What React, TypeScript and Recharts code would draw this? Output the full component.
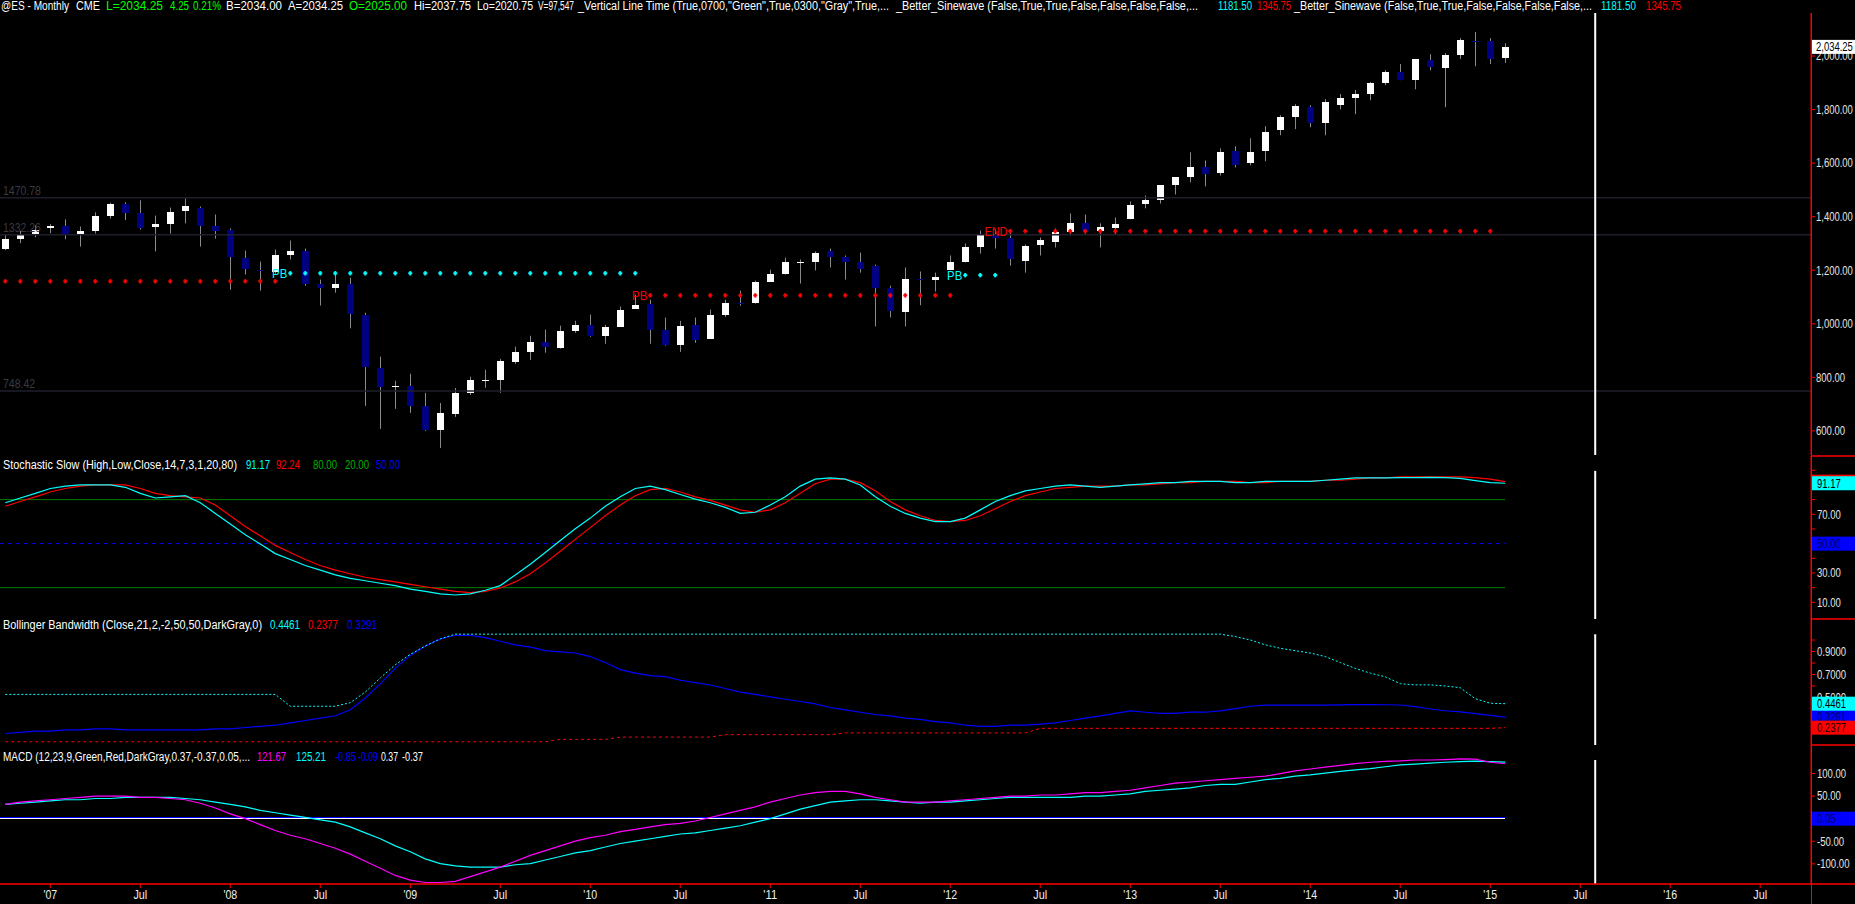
import React from "react";
import { Bar, ComposedChart, Line, ReferenceLine, Scatter, XAxis, YAxis } from "recharts";

const FONT = '"Liberation Sans", Arial, sans-serif';
const CHART_W = 1855;
const AXIS_W = 44;
const X_DOMAIN: [number, number] = [-0.3533, 120.3867];

const CYAN = "#00ffff";
const RED = "#ff0000";
const BLUE = "#0000ff";
const MAGENTA = "#ff00ff";
const GREEN = "#008000";
const AXIS_RED = "#ff0000";

// monthly @ES bars, Oct 2006 .. Feb 2015
const opens = [
  1281, 1318, 1337, 1356, 1367, 1333, 1345, 1401, 1446, 1413,
  1360, 1371, 1423, 1434, 1367, 1352, 1247, 1202, 1195, 1255,
  1270, 1150, 1135, 1150, 1034, 835, 765, 768, 693, 603,
  663, 742, 789, 790, 858, 895, 933, 910, 974, 996,
  955, 989, 1056, 1075, 978, 921, 996, 944, 1034, 1079,
  1079, 1157, 1184, 1226, 1229, 1270, 1251, 1229, 1217, 1132,
  1043, 1169, 1165, 1200, 1232, 1288, 1337, 1322, 1236, 1296,
  1307, 1341, 1375, 1345, 1356, 1393, 1446, 1461, 1517, 1547,
  1584, 1562, 1644, 1599, 1644, 1723, 1771, 1809, 1749, 1816,
  1843, 1858, 1899, 1940, 1910, 1985, 1955, 2004, 2056, 2056, 1992,
];
const highs = [
  1333, 1347, 1367, 1372, 1390, 1363, 1416, 1452, 1454, 1461,
  1404, 1434, 1468, 1438, 1408, 1356, 1273, 1232, 1277, 1311,
  1281, 1165, 1187, 1172, 1041, 877, 787, 813, 742, 704,
  760, 802, 828, 869, 914, 955, 978, 993, 1011, 1034,
  996, 1064, 1109, 1090, 1023, 1011, 1023, 1053, 1090, 1124,
  1161, 1202, 1247, 1240, 1270, 1281, 1255, 1266, 1221, 1142,
  1210, 1195, 1191, 1255, 1300, 1348, 1352, 1341, 1296, 1322,
  1356, 1412, 1408, 1375, 1397, 1457, 1479, 1517, 1547, 1640,
  1610, 1655, 1663, 1693, 1738, 1779, 1820, 1816, 1839, 1858,
  1873, 1903, 1947, 1970, 1989, 2007, 2011, 2067, 2090, 2067, 2048,
];
const lows = [
  1275, 1301, 1323, 1338, 1316, 1288, 1337, 1393, 1387, 1352,
  1270, 1337, 1375, 1288, 1318, 1127, 1184, 1124, 1187, 1240,
  1142, 1068, 1116, 983, 693, 607, 682, 667, 600, 536,
  652, 734, 761, 742, 850, 865, 892, 907, 966, 951,
  925, 989, 1056, 925, 918, 895, 929, 944, 1026, 1067,
  1075, 1157, 1184, 1150, 1199, 1210, 1165, 1191, 990, 1024,
  990, 1069, 1120, 1200, 1229, 1262, 1281, 1217, 1191, 1255,
  1285, 1330, 1337, 1285, 1333, 1390, 1431, 1449, 1483, 1528,
  1513, 1554, 1584, 1592, 1607, 1704, 1727, 1734, 1704, 1801,
  1783, 1835, 1891, 1910, 1876, 1947, 1809, 1989, 1962, 1970, 1974,
];
const closes = [
  1318, 1337, 1352, 1367, 1333, 1345, 1401, 1446, 1412, 1356,
  1371, 1419, 1438, 1367, 1348, 1251, 1204, 1196, 1255, 1270,
  1150, 1135, 1150, 1038, 837, 764, 768, 693, 603, 667,
  742, 790, 791, 862, 895, 933, 914, 974, 996, 955,
  989, 1053, 1071, 978, 921, 993, 940, 1034, 1079, 1076,
  1157, 1184, 1229, 1229, 1266, 1251, 1229, 1204, 1132, 1046,
  1169, 1166, 1176, 1232, 1288, 1333, 1322, 1240, 1292, 1311,
  1341, 1378, 1348, 1360, 1371, 1442, 1461, 1517, 1547, 1584,
  1558, 1640, 1592, 1640, 1715, 1771, 1813, 1749, 1828, 1843,
  1858, 1899, 1940, 1910, 1989, 1959, 2004, 2060, 2054, 1989, 2034.25,
];

// Better_Sinewave step levels (bar index range, price level, marker text)
const sineSegments = [
  { from: 0, to: 18, level: 1158.5, color: RED, label: "" },
  { from: 19, to: 42, level: 1188.5, color: CYAN, label: "PB" },
  { from: 43, to: 63, level: 1106, color: RED, label: "PB" },
  { from: 64, to: 66, level: 1181.5, color: CYAN, label: "PB" },
  { from: 67, to: 99, level: 1345.75, color: RED, label: "END" },
];
const priceLevels = [1470.78, 1332.26, 748.42];
const priceTicks = [600, 800, 1000, 1200, 1400, 1600, 1800, 2000];
const lastPrice = 2034.25;
const verticalLineIndex = 106;

// Stochastic Slow
const stochK = [
  77.9, 81.1, 84.3, 87.6, 89.2, 90.0, 90.0, 90.0, 88.4, 84.3,
  81.1, 81.9, 82.7, 77.9, 70.6, 63.4, 56.1, 49.7, 43.2, 39.2,
  35.1, 31.9, 28.7, 26.3, 24.7, 23.0, 21.4, 19.0, 17.4, 15.8,
  15.0, 15.8, 18.2, 21.4, 28.7, 36.0, 44.0, 52.1, 60.1, 67.4,
  75.5, 81.9, 87.6, 89.2, 86.8, 83.5, 80.3, 77.9, 74.7, 70.6,
  71.4, 76.3, 81.9, 89.2, 94.0, 94.8, 94.0, 90.0, 81.9, 75.5,
  70.6, 67.4, 65.0, 65.0, 67.4, 73.0, 78.7, 82.7, 86.0, 87.6,
  89.2, 90.0, 89.2, 88.4, 89.2, 90.0, 90.8, 91.6, 91.6, 92.4,
  92.4, 92.4, 91.6, 91.6, 92.4, 92.4, 92.4, 92.4, 93.2, 94.0,
  94.8, 94.8, 94.8, 95.0, 95.0, 95.2, 95.0, 94.5, 93.0, 91.6, 91.17,
];
const stochD = [
  75.5, 78.7, 81.9, 85.2, 87.6, 89.2, 90.0, 90.0, 90.0, 87.6,
  84.3, 82.7, 81.9, 81.1, 76.3, 69.0, 61.7, 55.3, 48.8, 44.0,
  39.2, 35.1, 31.9, 29.5, 27.1, 25.5, 23.9, 22.2, 20.6, 19.0,
  17.4, 16.6, 17.4, 19.8, 23.9, 29.5, 36.8, 44.8, 52.9, 60.9,
  69.0, 76.3, 82.7, 86.8, 87.6, 85.2, 81.9, 79.5, 76.3, 73.0,
  71.4, 73.0, 77.9, 84.3, 90.8, 94.0, 94.0, 91.6, 86.0, 78.7,
  73.0, 69.0, 65.8, 65.0, 65.8, 69.0, 73.8, 78.7, 82.7, 85.2,
  87.6, 88.4, 89.2, 89.2, 89.2, 90.0, 90.0, 90.8, 91.6, 91.6,
  92.4, 92.4, 92.4, 91.6, 91.6, 92.4, 92.4, 92.4, 93.2, 93.2,
  94.0, 94.8, 94.8, 95.5, 95.5, 95.5, 95.5, 95.5, 95.0, 94.0, 92.24,
];

// Bollinger Bandwidth
const bandwidthCyan = [
  0.527, 0.527, 0.527, 0.527, 0.527, 0.527, 0.527, 0.527, 0.527, 0.527,
  0.527, 0.527, 0.527, 0.527, 0.527, 0.527, 0.527, 0.527, 0.527, 0.424,
  0.424, 0.424, 0.424, 0.455, 0.547, 0.67, 0.784, 0.876, 0.948, 1.01,
  1.051, 1.051, 1.051, 1.051, 1.051, 1.051, 1.051, 1.051, 1.051, 1.051,
  1.051, 1.051, 1.051, 1.051, 1.051, 1.051, 1.051, 1.051, 1.051, 1.051,
  1.051, 1.051, 1.051, 1.051, 1.051, 1.051, 1.051, 1.051, 1.051, 1.051,
  1.051, 1.051, 1.051, 1.051, 1.051, 1.051, 1.051, 1.051, 1.051, 1.051,
  1.051, 1.051, 1.051, 1.051, 1.051, 1.051, 1.051, 1.051, 1.051, 1.051,
  1.051, 1.051, 1.03, 1.0, 0.958, 0.928, 0.907, 0.887, 0.856, 0.804,
  0.753, 0.712, 0.68, 0.62, 0.61, 0.61, 0.6, 0.585, 0.49, 0.45, 0.4461,
];
const bandwidthBlue = [
  0.187, 0.197, 0.208, 0.208, 0.218, 0.218, 0.228, 0.228, 0.218, 0.218,
  0.218, 0.218, 0.218, 0.218, 0.228, 0.228, 0.239, 0.249, 0.259, 0.28,
  0.3, 0.321, 0.341, 0.393, 0.496, 0.619, 0.753, 0.866, 0.948, 1.01,
  1.041, 1.041, 1.02, 0.989, 0.958, 0.938, 0.907, 0.897, 0.887, 0.856,
  0.804, 0.743, 0.712, 0.691, 0.681, 0.65, 0.63, 0.609, 0.578, 0.547,
  0.527, 0.506, 0.485, 0.465, 0.444, 0.413, 0.393, 0.372, 0.352, 0.341,
  0.321, 0.31, 0.29, 0.28, 0.259, 0.249, 0.249, 0.259, 0.259, 0.269,
  0.28, 0.3, 0.321, 0.341, 0.362, 0.383, 0.372, 0.362, 0.362, 0.372,
  0.372, 0.383, 0.403, 0.424, 0.434, 0.434, 0.434, 0.434, 0.434, 0.436,
  0.438, 0.438, 0.437, 0.435, 0.42, 0.4, 0.385, 0.375, 0.36, 0.345, 0.3291,
];
const bandwidthRed = [
  0.115, 0.115, 0.115, 0.115, 0.115, 0.115, 0.115, 0.115, 0.115, 0.115,
  0.115, 0.115, 0.115, 0.115, 0.115, 0.115, 0.115, 0.115, 0.115, 0.115,
  0.115, 0.115, 0.115, 0.115, 0.115, 0.115, 0.115, 0.115, 0.115, 0.115,
  0.115, 0.115, 0.115, 0.115, 0.115, 0.115, 0.115, 0.136, 0.136, 0.136,
  0.136, 0.156, 0.156, 0.156, 0.156, 0.156, 0.156, 0.156, 0.177, 0.177,
  0.177, 0.177, 0.177, 0.177, 0.177, 0.177, 0.192, 0.192, 0.192, 0.192,
  0.192, 0.192, 0.192, 0.192, 0.192, 0.192, 0.192, 0.192, 0.192, 0.232,
  0.232, 0.232, 0.232, 0.232, 0.232, 0.232, 0.232, 0.232, 0.232, 0.232,
  0.232, 0.232, 0.232, 0.232, 0.232, 0.232, 0.232, 0.232, 0.232, 0.232,
  0.232, 0.232, 0.232, 0.232, 0.232, 0.232, 0.232, 0.232, 0.232, 0.232, 0.2377,
];

// MACD
const macdMain = [
  31.6, 36.8, 39.4, 42.0, 44.7, 47.3, 49.9, 49.9, 49.9, 47.3,
  47.3, 44.7, 42.0, 34.2, 23.7, 10.6, 0.1, -13.0, -26.1, -36.6,
  -44.4, -54.9, -65.4, -78.5, -94.2, -109.9, -125.6, -136.0, -141.3, -141.3,
  -138.7, -128.2, -117.7, -107.3, -94.2, -81.1, -70.6, -60.1, -49.6, -41.8,
  -36.6, -28.7, -23.5, -18.2, -13.0, -10.4, -5.1, 2.7, 10.6, 18.5,
  26.3, 36.8, 44.7, 52.5, 57.8, 60.4, 60.4, 55.1, 47.3, 42.0,
  36.8, 36.8, 36.8, 39.4, 42.0, 44.7, 47.3, 49.9, 49.9, 52.5,
  52.5, 55.1, 57.8, 57.8, 60.4, 63.0, 68.2, 73.5, 78.7, 81.3,
  84.0, 86.6, 89.2, 91.8, 94.4, 99.7, 106, 110, 114, 118,
  122, 125, 127, 128, 130, 130, 131, 132.5, 132, 125, 121.67,
];
const macdSignal = [
  31.6, 34.2, 36.8, 39.4, 42.0, 42.0, 44.7, 44.7, 47.3, 47.3,
  47.3, 47.3, 44.7, 42.0, 36.8, 31.6, 26.3, 18.5, 13.2, 8.0,
  2.8, -2.5, -7.7, -18.2, -31.3, -44.4, -60.1, -73.2, -88.9, -99.4,
  -104.6, -107.3, -107.3, -107.3, -102.0, -99.4, -91.5, -83.7, -75.8, -70.6,
  -62.7, -54.9, -49.6, -44.4, -39.2, -33.9, -31.3, -26.1, -20.8, -15.6,
  -7.7, 0.1, 10.6, 21.1, 28.9, 36.8, 39.4, 42.0, 42.0, 39.4,
  36.8, 34.2, 36.8, 36.8, 39.4, 42.0, 44.7, 47.3, 47.3, 47.3,
  47.3, 47.3, 49.9, 49.9, 52.5, 55.1, 60.4, 63.0, 65.6, 68.2,
  73.5, 76.1, 76.1, 81.3, 86.6, 89.2, 94.4, 97.0, 101, 105,
  108, 111, 115, 119, 121, 123, 125, 126.5, 127.5, 126.5, 125.21,
];

const xTickIndex = [3, 9, 15, 21, 27, 33, 39, 45, 51, 57, 63, 69, 75, 81, 87, 93, 99, 105, 111, 117];
const xTickLabels = [
  "'07", "Jul", "'08", "Jul", "'09", "Jul", "'10", "Jul", "'11", "Jul",
  "'12", "Jul", "'13", "Jul", "'14", "Jul", "'15", "Jul", "'16", "Jul",
];

const candles = opens.map((o, i) => ({
  k: i,
  o,
  h: highs[i],
  l: lows[i],
  c: closes[i],
  range: [lows[i], highs[i]],
}));
const stochData = stochK.map((v, i) => ({ k: i, fast: v, slow: stochD[i] }));
const bandData = bandwidthCyan.map((v, i) => ({ k: i, cyan: v, blue: bandwidthBlue[i], red: bandwidthRed[i] }));
const macdData = macdMain.map((v, i) => ({ k: i, main: v, signal: macdSignal[i] }));
const sinePoints = sineSegments.map((s) => {
  const pts = [];
  for (let k = s.from; k <= s.to; k++) {
    pts.push({ k, v: s.level, color: s.color, label: k === s.from ? s.label : "" });
  }
  return pts;
});

// the platform font is a narrow one, squeeze numbers to about its width
function numberWidth(s: string) {
  let w = 0;
  for (const ch of s) {
    if (ch >= "0" && ch <= "9") w += 5.35;
    else if (ch === "-") w += 3.4;
    else w += 2.4;
  }
  return w;
}

function CandleShape(props: any) {
  const { x, y, width, height, payload } = props;
  if (!payload) return null;
  const { o, h, l, c } = payload;
  const mid = x + width / 2;
  const perUnit = h === l ? 0 : height / (h - l);
  const yOf = (p: number) => y + (h - p) * perUnit;
  const top = yOf(Math.max(o, c));
  const bottom = yOf(Math.min(o, c));
  const wickX = Math.floor(mid) + 0.5;
  return (
    <g>
      <line x1={wickX} x2={wickX} y1={y} y2={y + height} stroke="#8a8a8a" strokeWidth={1} />
      <rect
        x={Math.round(mid - 3.5)}
        y={Math.round(top)}
        width={7}
        height={Math.max(1, Math.round(bottom) - Math.round(top))}
        fill={c >= o ? "#ffffff" : "#000080"}
        shapeRendering="crispEdges"
      />
    </g>
  );
}

function SineDot(props: any) {
  const { cx, cy, payload } = props;
  if (cx == null || cy == null) return null;
  const color = payload.color;
  return (
    <g>
      <rect x={cx - 1} y={cy - 2.2} width={2} height={4.4} fill={color} />
      <rect x={cx - 2} y={cy - 1} width={4} height={2} fill={color} />
      {payload.label ? (
        <text
          x={cx - 3}
          y={cy}
          dy="0.36em"
          textAnchor="end"
          fill={color}
          fontSize={13}
          fontFamily={FONT}
          textLength={payload.label.length * 7.6}
          lengthAdjust="spacingAndGlyphs"
        >
          {payload.label}
        </text>
      ) : null}
    </g>
  );
}

type AxisBox = { value: number; bg: string; fg: string };

function axisTick(labelled: number[], fmt: (v: number) => string, boxes: AxisBox[]) {
  return (props: any) => {
    const { x, y, payload } = props;
    const v = payload.value;
    const s = fmt(v);
    const box = boxes.find((b) => b.value === v);
    if (box) {
      return (
        <g>
          <rect x={x - 5} y={y - 7} width={AXIS_W} height={14} fill={box.bg} />
          <text
            x={x}
            y={y}
            dy="0.36em"
            fill={box.fg}
            fontSize={12}
            fontFamily={FONT}
            textLength={numberWidth(s)}
            lengthAdjust="spacingAndGlyphs"
          >
            {s}
          </text>
        </g>
      );
    }
    if (!labelled.includes(v)) return <g />;
    return (
      <text
        x={x}
        y={y}
        dy="0.36em"
        fill="#e4e4e4"
        fontSize={12}
        fontFamily={FONT}
        textLength={numberWidth(s)}
        lengthAdjust="spacingAndGlyphs"
      >
        {s}
      </text>
    );
  };
}

function XTick(props: any) {
  const { x, y, payload } = props;
  const s = xTickLabels[xTickIndex.indexOf(payload.value)] ?? "";
  return (
    <text
      x={x}
      y={y}
      dy="0.71em"
      textAnchor="middle"
      fill="#eeeeee"
      fontSize={12}
      fontFamily={FONT}
      textLength={s.length * 4.6}
      lengthAdjust="spacingAndGlyphs"
    >
      {s}
    </text>
  );
}

function LevelLabel(props: any) {
  const { viewBox, text } = props;
  if (!viewBox) return null;
  return (
    <text
      x={viewBox.x + 3}
      y={viewBox.y - 3}
      fill="#3a3a46"
      fontSize={13}
      fontFamily={FONT}
      textLength={numberWidth(text) * 1.1}
      lengthAdjust="spacingAndGlyphs"
    >
      {text}
    </text>
  );
}

const priceFmt = (v: number) => v.toLocaleString("en-US", { minimumFractionDigits: 2, maximumFractionDigits: 2 });

function PricePanel() {
  return (
    <ComposedChart width={CHART_W} height={442} data={candles} margin={{ top: 0, right: 0, bottom: 0, left: 0 }}>
      <XAxis type="number" dataKey="k" domain={X_DOMAIN} allowDataOverflow hide />
      <YAxis
        orientation="right"
        width={AXIS_W}
        domain={[509.7, 2160.8]}
        allowDataOverflow
        ticks={[...priceTicks, lastPrice]}
        interval={0}
        axisLine={{ stroke: AXIS_RED }}
        tickLine={{ stroke: AXIS_RED }}
        tickSize={4}
        tickMargin={1}
        tick={axisTick(priceTicks, priceFmt, [{ value: lastPrice, bg: "#ffffff", fg: "#000000" }])}
      />
      {priceLevels.map((p) => (
        <ReferenceLine key={p} y={p} stroke="#1f1f2c" strokeWidth={1.5} label={<LevelLabel text={p.toFixed(2)} />} />
      ))}
      <ReferenceLine x={verticalLineIndex} stroke="#ffffff" strokeWidth={2} />
      <Bar dataKey="range" barSize={7} shape={<CandleShape />} isAnimationActive={false} />
      {sinePoints.map((pts, i) => (
        <Scatter key={i} data={pts} dataKey="v" shape={<SineDot />} isAnimationActive={false} />
      ))}
    </ComposedChart>
  );
}

function StochasticPanel() {
  const end = 100;
  return (
    <ComposedChart width={CHART_W} height={163} data={stochData} margin={{ top: 0, right: 0, bottom: 0, left: 0 }}>
      <XAxis type="number" dataKey="k" domain={X_DOMAIN} allowDataOverflow hide />
      <YAxis
        orientation="right"
        width={AXIS_W}
        domain={[-1.37, 109.74]}
        allowDataOverflow
        ticks={[100, 80, 60, 40, 20, 70, 30, 10, 92.24, 91.17, 50]}
        interval={0}
        axisLine={{ stroke: AXIS_RED }}
        tickLine={{ stroke: AXIS_RED }}
        tickSize={4}
        tickMargin={2}
        tick={axisTick([70, 30, 10], (v) => v.toFixed(2), [
          { value: 92.24, bg: RED, fg: "#000000" },
          { value: 91.17, bg: CYAN, fg: "#000000" },
          { value: 50, bg: BLUE, fg: "#000060" },
        ])}
      />
      <ReferenceLine segment={[{ x: X_DOMAIN[0], y: 80 }, { x: end, y: 80 }]} stroke={GREEN} />
      <ReferenceLine segment={[{ x: X_DOMAIN[0], y: 20 }, { x: end, y: 20 }]} stroke={GREEN} />
      <ReferenceLine segment={[{ x: X_DOMAIN[0], y: 50 }, { x: end, y: 50 }]} stroke={BLUE} strokeDasharray="4 4" />
      <ReferenceLine
        segment={[{ x: verticalLineIndex, y: 99.6 }, { x: verticalLineIndex, y: -1.37 }]}
        stroke="#ffffff"
        strokeWidth={2}
      />
      <Line type="linear" dataKey="slow" stroke={RED} strokeWidth={1.2} dot={false} isAnimationActive={false} />
      <Line type="linear" dataKey="fast" stroke={CYAN} strokeWidth={1.2} dot={false} isAnimationActive={false} />
    </ComposedChart>
  );
}

function BandwidthPanel() {
  return (
    <ComposedChart width={CHART_W} height={126} data={bandData} margin={{ top: 0, right: 0, bottom: 0, left: 0 }}>
      <XAxis type="number" dataKey="k" domain={X_DOMAIN} allowDataOverflow hide />
      <YAxis
        orientation="right"
        width={AXIS_W}
        domain={[0.087, 1.1826]}
        allowDataOverflow
        ticks={[1.0, 0.8, 0.6, 0.9, 0.7, 0.5, 0.3291, 0.4461, 0.2377]}
        interval={0}
        axisLine={{ stroke: AXIS_RED }}
        tickLine={{ stroke: AXIS_RED }}
        tickSize={4}
        tickMargin={2}
        tick={axisTick([0.9, 0.7, 0.5], (v) => v.toFixed(4), [
          { value: 0.3291, bg: BLUE, fg: "#000060" },
          { value: 0.4461, bg: CYAN, fg: "#000000" },
          { value: 0.2377, bg: RED, fg: "#200000" },
        ])}
      />
      <ReferenceLine
        segment={[{ x: verticalLineIndex, y: 1.05 }, { x: verticalLineIndex, y: 0.087 }]}
        stroke="#ffffff"
        strokeWidth={2}
      />
      <Line type="linear" dataKey="red" stroke={RED} strokeWidth={1} strokeDasharray="3 3" dot={false} isAnimationActive={false} />
      <Line type="linear" dataKey="blue" stroke={BLUE} strokeWidth={1.2} dot={false} isAnimationActive={false} />
      <Line type="linear" dataKey="cyan" stroke={CYAN} strokeWidth={1} strokeDasharray="2 2" dot={false} isAnimationActive={false} />
    </ComposedChart>
  );
}

function MacdPanel() {
  const end = 100;
  return (
    <ComposedChart width={CHART_W} height={159} data={macdData} margin={{ top: 0, right: 0, bottom: 0, left: 0 }}>
      <XAxis
        type="number"
        dataKey="k"
        domain={X_DOMAIN}
        allowDataOverflow
        height={20}
        ticks={xTickIndex}
        interval={0}
        axisLine={{ stroke: AXIS_RED, strokeWidth: 1.5 }}
        tickLine={{ stroke: AXIS_RED }}
        tickSize={4}
        tickMargin={2}
        tick={<XTick />}
      />
      <YAxis
        orientation="right"
        width={AXIS_W}
        domain={[-144.6, 163.2]}
        allowDataOverflow
        ticks={[100, 50, -50, -100, 0.05]}
        interval={0}
        axisLine={{ stroke: AXIS_RED }}
        tickLine={{ stroke: AXIS_RED }}
        tickSize={4}
        tickMargin={2}
        tick={axisTick([100, 50, -50, -100], (v) => v.toFixed(2), [{ value: 0.05, bg: BLUE, fg: "#000060" }])}
      />
      <ReferenceLine
        segment={[{ x: X_DOMAIN[0], y: 0.37 }, { x: end, y: 0.37 }]}
        stroke={BLUE}
        strokeWidth={1}
        transform="translate(0,-1)"
        shapeRendering="crispEdges"
      />
      <ReferenceLine
        segment={[{ x: X_DOMAIN[0], y: -0.37 }, { x: end, y: -0.37 }]}
        stroke="#ffffff"
        strokeWidth={1}
        shapeRendering="crispEdges"
      />
      <ReferenceLine
        segment={[{ x: verticalLineIndex, y: 130 }, { x: verticalLineIndex, y: -144.6 }]}
        stroke="#ffffff"
        strokeWidth={2}
      />
      <Line type="linear" dataKey="signal" stroke={CYAN} strokeWidth={1.2} dot={false} isAnimationActive={false} />
      <Line type="linear" dataKey="main" stroke={MAGENTA} strokeWidth={1.2} dot={false} isAnimationActive={false} />
    </ComposedChart>
  );
}

type TextPart = { x: number; w: number; text: string; color: string };

const headerParts: TextPart[] = [
  { x: 1, w: 68, text: "@ES - Monthly", color: "#ffffff" },
  { x: 76, w: 24, text: "CME", color: "#ffffff" },
  { x: 106, w: 57, text: "L=2034.25", color: "#00ff00" },
  { x: 170, w: 19, text: "4.25", color: "#00ff00" },
  { x: 193, w: 28, text: "0.21%", color: "#00ff00" },
  { x: 226, w: 56, text: "B=2034.00", color: "#ffffff" },
  { x: 288, w: 55, text: "A=2034.25", color: "#ffffff" },
  { x: 349, w: 58, text: "O=2025.00", color: "#00ff00" },
  { x: 414, w: 57, text: "Hi=2037.75", color: "#ffffff" },
  { x: 477, w: 56, text: "Lo=2020.75", color: "#ffffff" },
  { x: 538, w: 36, text: "V=97,547", color: "#ffffff" },
  { x: 578, w: 311, text: '_Vertical Line Time (True,0700,"Green",True,0300,"Gray",True,...', color: "#ffffff" },
  { x: 896, w: 302, text: "_Better_Sinewave (False,True,True,False,False,False,False,...", color: "#ffffff" },
  { x: 1218, w: 34, text: "1181.50", color: CYAN },
  { x: 1257, w: 34, text: "1345.75", color: RED },
  { x: 1294, w: 298, text: "_Better_Sinewave (False,True,True,False,False,False,False,...", color: "#ffffff" },
  { x: 1601, w: 35, text: "1181.50", color: CYAN },
  { x: 1646, w: 35, text: "1345.75", color: RED },
];
const stochLegend: TextPart[] = [
  { x: 3, w: 234, text: "Stochastic Slow (High,Low,Close,14,7,3,1,20,80)", color: "#ffffff" },
  { x: 246, w: 24, text: "91.17", color: CYAN },
  { x: 276, w: 24, text: "92.24", color: RED },
  { x: 313, w: 24, text: "80.00", color: "#00b000" },
  { x: 345, w: 24, text: "20.00", color: "#00b000" },
  { x: 376, w: 24, text: "50.00", color: BLUE },
];
const bandLegend: TextPart[] = [
  { x: 3, w: 259, text: "Bollinger Bandwidth (Close,21,2,-2,50,50,DarkGray,0)", color: "#ffffff" },
  { x: 270, w: 30, text: "0.4461", color: CYAN },
  { x: 308, w: 30, text: "0.2377", color: RED },
  { x: 347, w: 30, text: "0.3291", color: BLUE },
];
const macdLegend: TextPart[] = [
  { x: 3, w: 247, text: "MACD (12,23,9,Green,Red,DarkGray,0.37,-0.37,0.05,...", color: "#ffffff" },
  { x: 257, w: 29, text: "121.67", color: MAGENTA },
  { x: 296, w: 30, text: "125.21", color: CYAN },
  { x: 335, w: 21, text: "-0.85", color: BLUE },
  { x: 358, w: 20, text: "-0.09", color: BLUE },
  { x: 381, w: 17, text: "0.37", color: "#ffffff" },
  { x: 402, w: 21, text: "-0.37", color: "#ffffff" },
];

function TextRow({ parts, y }: { parts: TextPart[]; y: number }) {
  return (
    <g>
      {parts.map((p, i) => (
        <text
          key={i}
          x={p.x}
          y={y}
          fill={p.color}
          fontSize={12}
          fontFamily={FONT}
          textLength={p.w}
          lengthAdjust="spacingAndGlyphs"
        >
          {p.text}
        </text>
      ))}
    </g>
  );
}

export default function App() {
  return (
    <div style={{ position: "fixed", left: 0, top: 0, width: 1855, height: 904, background: "#000000", overflow: "hidden" }}>
      <div style={{ position: "absolute", left: 0, top: 13 }}>
        <PricePanel />
      </div>
      <div style={{ position: "absolute", left: 0, top: 456 }}>
        <StochasticPanel />
      </div>
      <div style={{ position: "absolute", left: 0, top: 619 }}>
        <BandwidthPanel />
      </div>
      <div style={{ position: "absolute", left: 0, top: 745 }}>
        <MacdPanel />
      </div>
      <svg width={1855} height={904} style={{ position: "absolute", left: 0, top: 0, pointerEvents: "none" }}>
        <TextRow parts={headerParts} y={10} />
        <TextRow parts={stochLegend} y={469} />
        <TextRow parts={bandLegend} y={629} />
        <TextRow parts={macdLegend} y={761} />
        <line x1={1811.5} x2={1811.5} y1={13} y2={904} stroke={AXIS_RED} strokeWidth={1} />
        <line x1={1811} x2={1855} y1={456} y2={456} stroke={AXIS_RED} strokeWidth={1.5} />
        <line x1={1811} x2={1855} y1={619} y2={619} stroke={AXIS_RED} strokeWidth={1.5} />
        <line x1={1811} x2={1855} y1={745} y2={745} stroke={AXIS_RED} strokeWidth={1.5} />
        <line x1={1811} x2={1855} y1={884} y2={884} stroke={AXIS_RED} strokeWidth={1.5} />
      </svg>
    </div>
  );
}
